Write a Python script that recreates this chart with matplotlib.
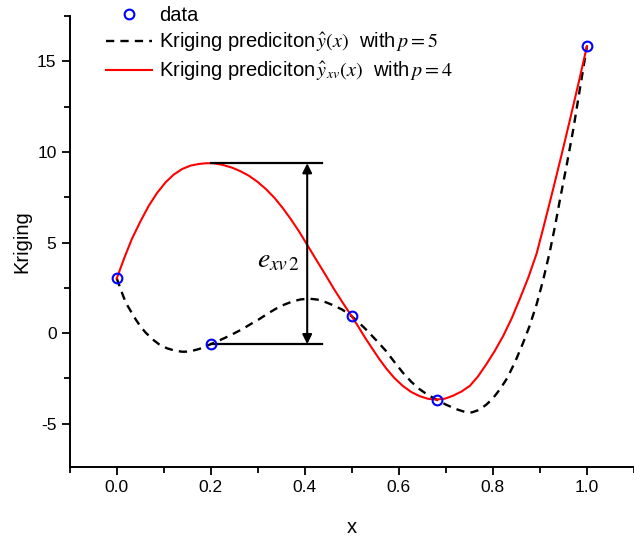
import numpy as np
import matplotlib
matplotlib.use("Agg")
from matplotlib import pyplot as plt
from matplotlib.ticker import MultipleLocator, FormatStrFormatter

plt.rcParams["font.family"] = ["Liberation Sans", "DejaVu Sans"]
plt.rcParams["mathtext.fontset"] = "stix"
plt.rcParams["axes.unicode_minus"] = False

# sample points
x_data = [0.0, 0.2, 0.5, 0.68, 1.0]
y_data = [3.02, -0.61, 0.92, -3.67, 15.85]

# prediction with p = 5 (all samples)
x_p5 = [0.000, 0.010, 0.019, 0.030, 0.040, 0.050, 0.061, 0.075, 0.090, 0.107,
        0.125, 0.140, 0.154, 0.175, 0.200, 0.216, 0.232, 0.250, 0.267, 0.285,
        0.303, 0.320, 0.338, 0.356, 0.374, 0.391, 0.409, 0.427, 0.445, 0.462,
        0.480, 0.500, 0.515, 0.530, 0.552, 0.573, 0.590, 0.608, 0.626, 0.644,
        0.662, 0.680, 0.700, 0.722, 0.740, 0.755, 0.770, 0.786, 0.800, 0.815,
        0.830, 0.847, 0.864, 0.878, 0.893, 0.907, 0.921, 0.932, 0.942, 0.957,
        0.971, 0.985, 1.000]
y_p5 = [3.02, 2.30, 1.69, 1.20, 0.77, 0.38, 0.04, -0.32, -0.62, -0.84,
        -0.98, -1.03, -1.02, -0.88, -0.61, -0.43, -0.24, -0.01, 0.22, 0.50,
        0.77, 1.06, 1.34, 1.57, 1.75, 1.86, 1.90, 1.85, 1.70, 1.52,
        1.29, 0.92, 0.58, 0.20, -0.40, -1.00, -1.58, -2.17, -2.68, -3.10,
        -3.42, -3.67, -3.95, -4.20, -4.35, -4.38, -4.25, -3.95, -3.60, -3.10,
        -2.50, -1.60, -0.55, 0.40, 1.60, 2.95, 4.50, 5.90, 7.30, 9.30,
        11.27, 13.50, 15.85]

# cross-validation prediction with p = 4 (x = 0.2 left out)
x_p4 = [0.000, 0.016, 0.032, 0.050, 0.068, 0.086, 0.104, 0.121, 0.139, 0.157,
        0.175, 0.190, 0.205, 0.225, 0.246, 0.263, 0.281, 0.299, 0.317, 0.335,
        0.352, 0.370, 0.388, 0.409, 0.427, 0.445, 0.462, 0.480, 0.500, 0.515,
        0.530, 0.544, 0.558, 0.573, 0.590, 0.608, 0.626, 0.644, 0.662, 0.680,
        0.698, 0.715, 0.733, 0.751, 0.768, 0.786, 0.804, 0.822, 0.840, 0.857,
        0.875, 0.893, 0.910, 0.928, 0.946, 0.964, 0.982, 1.000]
y_p4 = [3.02, 4.15, 5.19, 6.15, 7.03, 7.75, 8.33, 8.75, 9.06, 9.25,
        9.34, 9.38, 9.38, 9.29, 9.13, 8.94, 8.69, 8.36, 7.96, 7.48,
        6.94, 6.30, 5.60, 4.70, 3.93, 3.17, 2.43, 1.70, 0.92, 0.30,
        -0.33, -0.88, -1.42, -1.95, -2.47, -2.91, -3.25, -3.48, -3.63, -3.67,
        -3.62, -3.46, -3.23, -2.91, -2.40, -1.72, -0.98, -0.15, 0.82, 1.88,
        3.05, 4.40, 6.10, 7.95, 9.85, 11.80, 13.80, 15.85]

# error bracket at the left-out point
x_out = 0.2
y_top = 9.38
y_bot = -0.61
x_arrow = 0.405
x_end = 0.437

fig = plt.figure(figsize=(6.34, 5.4), dpi=100)
ax = fig.add_axes((0.110, 0.135, 0.890, 0.835))

ax.plot(x_p5, y_p5, color="black", lw=1.7, dashes=(3.5, 2.6),
        label=r"Kriging prediciton$\,\hat{y}(x)$  with$\,p=5$")
ax.plot(x_p4, y_p4, color="red", lw=1.5,
        label=r"Kriging prediciton$\,\hat{y}_{xv}(x)$  with$\,p=4$")
ax.plot(x_data, y_data, "o", ms=7, mfc="none", mec="blue", mew=1.5,
        label="data", zorder=5)

ax.plot([x_out, x_end], [y_top, y_top], color="black", lw=1.6)
ax.plot([x_out, x_end], [y_bot, y_bot], color="black", lw=1.6)
ax.annotate("", xy=(x_arrow, y_top), xytext=(x_arrow, y_bot),
            arrowprops=dict(arrowstyle="<|-|>", color="black", lw=1.5,
                            mutation_scale=14, shrinkA=0, shrinkB=0))
ax.text(0.345, 4.0, r"$e_{xv\,2}$", fontsize=20, ha="center", va="center")

ax.set_xlim(-0.1, 1.1)
ax.set_ylim(-7.4, 17.5)
ax.xaxis.set_major_locator(MultipleLocator(0.2))
ax.xaxis.set_minor_locator(MultipleLocator(0.1))
ax.xaxis.set_major_formatter(FormatStrFormatter("%.1f"))
ax.yaxis.set_major_locator(MultipleLocator(5))
ax.yaxis.set_minor_locator(MultipleLocator(2.5))

for side in ("top", "right"):
    ax.spines[side].set_visible(False)
for side in ("left", "bottom"):
    ax.spines[side].set_linewidth(1.4)
ax.tick_params(which="major", direction="out", length=6, width=1.3, labelsize=12.5)
ax.tick_params(which="minor", direction="out", length=4, width=1.3)

ax.set_xlabel("x", fontsize=14.5, labelpad=16)
ax.set_ylabel("Kriging", fontsize=14.5, labelpad=4)

handles, labels = ax.get_legend_handles_labels()
order = [2, 0, 1]
fig.legend([handles[i] for i in order], [labels[i] for i in order],
           loc="upper left", bbox_to_anchor=(106 / 634, 1 - 6 / 540),
           frameon=False, fontsize=14.5, handlelength=2.3, handletextpad=0.35,
           labelspacing=0.3, borderpad=0, borderaxespad=0)

fig.savefig("out.png", dpi=100)
